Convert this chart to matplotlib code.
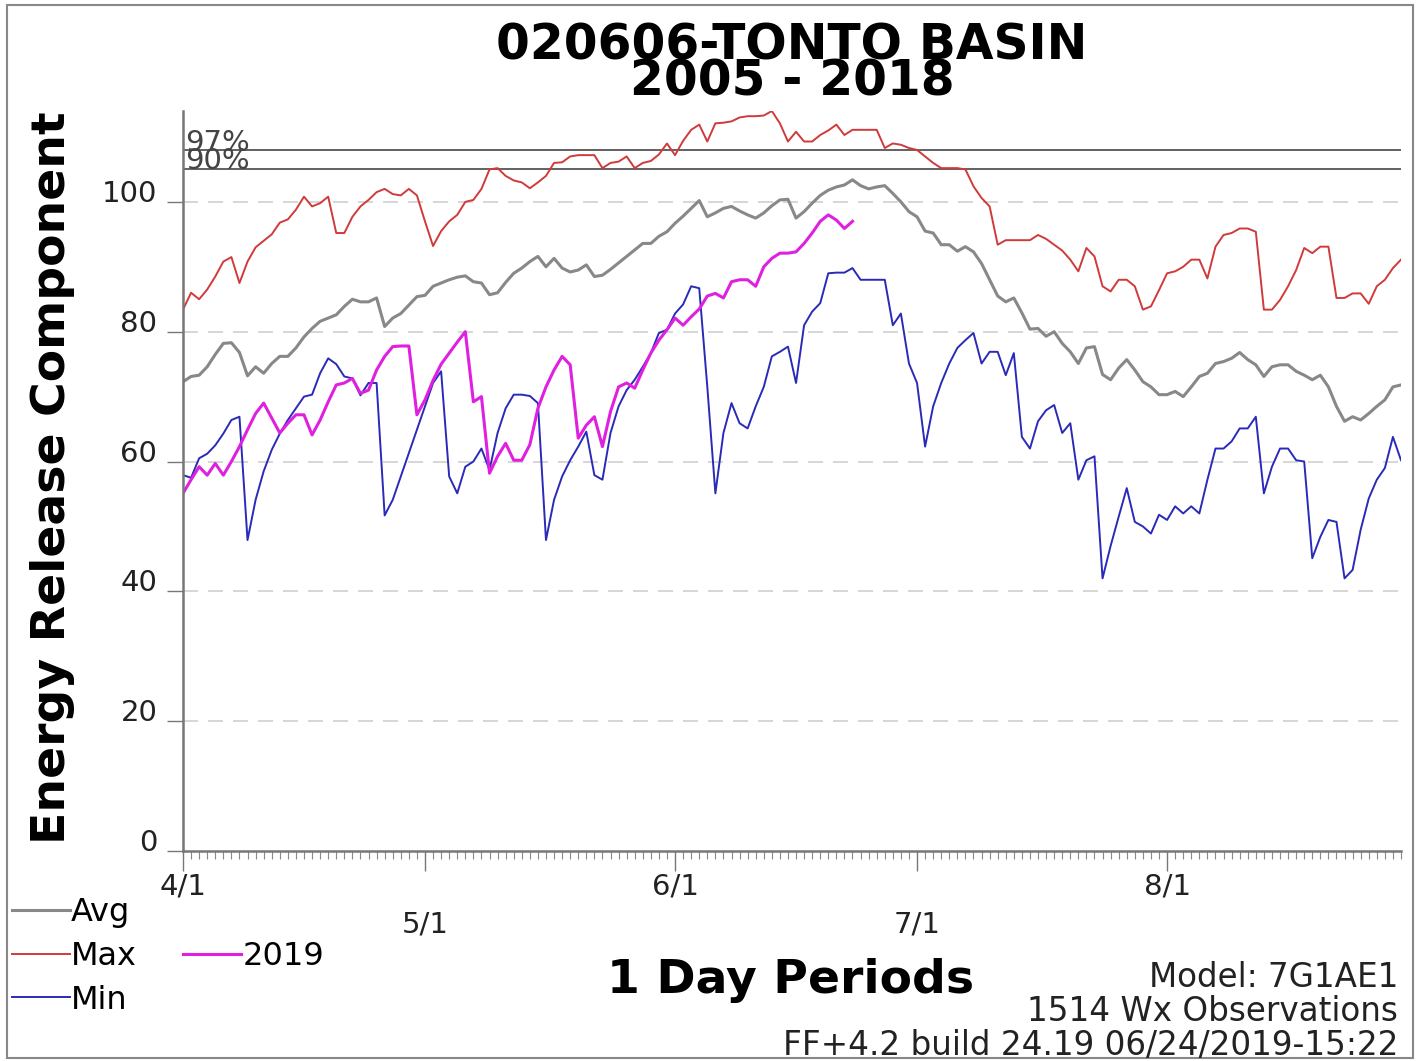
import numpy as np
import matplotlib
matplotlib.use('Agg')
import matplotlib.pyplot as plt
from matplotlib.lines import Line2D
from matplotlib.patches import Rectangle

# ERC values, one per day starting 4/1
erc_max = [83.4, 86.0, 85.0, 86.5, 88.5, 90.8, 91.5, 87.5, 90.8, 93.0,
           94.0, 95.0, 96.8, 97.3, 98.8, 100.8, 99.3, 99.8, 100.8, 95.2,
           95.2, 97.7, 99.3, 100.3, 101.5, 102.0, 101.2, 101.0, 102.0, 101.0,
           97.0, 93.2, 95.5, 97.0, 98.0, 100.0, 100.3, 102.0, 105.0, 105.2,
           104.0, 103.3, 103.0, 102.1, 103.0, 104.0, 106.0, 106.1, 107.0, 107.2,
           107.2, 107.2, 105.2, 106.0, 106.2, 107.0, 105.2, 106.0, 106.3, 107.3,
           109.0, 107.2, 109.4, 111.1, 111.9, 109.3, 112.1, 112.2, 112.4, 113.0,
           113.2, 113.2, 113.3, 114.0, 112.1, 109.3, 110.8, 109.3, 109.3, 110.3,
           111.0, 111.9, 110.3, 111.1, 111.1, 111.1, 111.1, 108.3, 109.0, 108.8,
           108.3, 108.0, 107.0, 106.0, 105.2, 105.2, 105.2, 105.0, 102.4, 100.6,
           99.3, 93.4, 94.1, 94.1, 94.1, 94.1, 94.9, 94.3, 93.4, 92.5,
           91.1, 89.3, 92.9, 91.6, 87.0, 86.2, 88.0, 88.0, 87.0, 83.4,
           83.9, 86.4, 89.0, 89.3, 90.0, 91.1, 91.1, 88.2, 93.1, 94.9,
           95.2, 95.9, 95.9, 95.4, 83.4, 83.4, 84.9, 87.0, 89.5, 92.9,
           92.1, 93.1, 93.1, 85.2, 85.2, 85.9, 85.9, 84.3, 87.0, 88.0,
           89.8, 91.1]

erc_avg = [72.3, 73.1, 73.3, 74.6, 76.5, 78.2, 78.3, 76.8, 73.2, 74.6,
           73.6, 75.1, 76.2, 76.2, 77.5, 79.2, 80.5, 81.6, 82.1, 82.6,
           83.9, 85.0, 84.6, 84.6, 85.2, 80.8, 82.1, 82.8, 84.1, 85.4,
           85.6, 87.0, 87.5, 88.0, 88.4, 88.6, 87.7, 87.5, 85.7, 86.0,
           87.6, 89.0, 89.8, 90.8, 91.6, 90.0, 91.3, 89.8, 89.2, 89.5,
           90.3, 88.5, 88.7, 89.6, 90.6, 91.6, 92.6, 93.6, 93.6, 94.7,
           95.4, 96.7, 97.8, 99.0, 100.2, 97.7, 98.3, 99.0, 99.3, 98.6,
           98.0, 97.5, 98.3, 99.4, 100.3, 100.4, 97.5, 98.5, 99.8, 101.0,
           101.8, 102.3, 102.6, 103.4, 102.5, 102.0, 102.3, 102.5, 101.3, 100.0,
           98.5, 97.7, 95.5, 95.2, 93.4, 93.4, 92.4, 93.1, 92.3, 90.5,
           88.0, 85.5, 84.6, 85.2, 82.9, 80.4, 80.5, 79.3, 80.0, 78.2,
           76.9, 75.1, 77.5, 77.7, 73.4, 72.6, 74.4, 75.7, 74.1, 72.3,
           71.5, 70.3, 70.3, 70.8, 70.0, 71.5, 73.1, 73.6, 75.1, 75.4,
           75.9, 76.8, 75.7, 74.9, 73.1, 74.6, 74.9, 74.9, 73.9, 73.3,
           72.6, 73.3, 71.5, 68.5, 66.2, 66.9, 66.4, 67.4, 68.5, 69.5,
           71.5, 71.8]

erc_min = [57.9, 57.5, 60.5, 61.2, 62.5, 64.3, 66.4, 66.9, 47.9, 54.1,
           58.5, 61.8, 64.3, 66.4, 68.2, 70.0, 70.3, 73.6, 75.9, 75.0,
           73.1, 72.8, 70.2, 72.1, 72.1, 51.7, 54.1, 57.7, 61.3, 64.9,
           68.5, 72.1, 73.9, 57.7, 55.1, 59.2, 60.0, 62.0, 58.7, 64.4,
           68.2, 70.3, 70.3, 70.1, 69.0, 47.9, 54.1, 57.7, 60.2, 62.3,
           64.6, 57.9, 57.2, 64.4, 68.5, 71.0, 72.6, 74.6, 76.7, 79.8,
           80.3, 82.8, 84.2, 87.0, 86.7, 71.5, 55.1, 64.4, 69.0, 65.9,
           65.1, 68.5, 71.5, 76.2, 76.9, 77.7, 72.1, 81.0, 83.1, 84.4,
           89.0, 89.1, 89.1, 89.8, 88.0, 88.0, 88.0, 88.0, 81.0, 82.8,
           75.1, 72.1, 62.3, 68.5, 72.1, 75.1, 77.5, 78.7, 79.8, 75.1,
           76.9, 76.9, 73.3, 76.7, 63.8, 62.0, 66.2, 67.9, 68.7, 64.4,
           65.9, 57.2, 60.2, 60.8, 42.0, 47.0, 51.5, 55.9, 50.7, 50.0,
           48.9, 51.8, 51.0, 53.1, 52.0, 53.1, 52.0, 57.2, 62.0, 62.0,
           63.1, 65.1, 65.1, 66.9, 55.1, 59.2, 62.0, 62.0, 60.2, 60.0,
           45.1, 48.4, 51.0, 50.7, 42.0, 43.3, 49.5, 54.3, 57.2, 59.0,
           63.8, 60.2]

# current season, up to 6/23
erc_2019 = [55.1, 57.2, 59.2, 57.9, 59.7, 57.9, 60.0, 62.3, 64.9, 67.4,
            69.0, 66.7, 64.4, 65.9, 67.2, 67.2, 64.1, 66.4, 69.2, 71.8,
            72.1, 72.8, 70.5, 71.0, 74.1, 76.2, 77.7, 77.8, 77.8, 67.2,
            69.5, 72.5, 75.0, 76.7, 78.4, 80.0, 69.2, 70.0, 58.2, 60.8,
            62.8, 60.2, 60.2, 62.6, 68.2, 71.5, 74.1, 76.2, 74.9, 63.6,
            65.6, 66.9, 62.3, 67.7, 71.5, 72.1, 71.3, 74.1, 76.7, 78.7,
            80.3, 82.1, 81.0, 82.3, 83.5, 85.5, 85.9, 85.2, 87.7, 88.0,
            88.0, 87.0, 90.0, 91.3, 92.1, 92.1, 92.3, 93.6, 95.2, 97.0,
            98.0, 97.2, 95.9, 97.0]

month_days = [0, 30, 61, 91, 122]
month_labels = ['4/1', '\n5/1', '6/1', '\n7/1', '8/1']
y_ticks = [0, 20, 40, 60, 80, 100]
pct_levels = [108.0, 105.1]
pct_labels = ['97%', '90%']

days = np.arange(len(erc_avg))
days_2019 = np.arange(len(erc_2019))

c_avg = '#888888'
c_max = '#d03a3a'
c_min = '#2a2ab8'
c_cur = '#e020e0'

W, H = 1426, 1061
fig = plt.figure(figsize=(W / 100, H / 100), dpi=100)
ax = fig.add_axes([183 / W, 210 / H, 1218 / W, 740 / H])

# gridlines + percentile lines
for v in y_ticks[1:]:
    ax.axhline(v, color='#d0d0d0', lw=1.2, ls=(0, (9, 6)), zorder=0)
for lev in pct_levels:
    ax.axhline(lev, color='#555555', lw=1.3, zorder=1)
# both labels in one block, anchored on the lower (90%) line
ax.text(0.3, pct_levels[1], '\n'.join(pct_labels), fontsize=21, color='#444444',
        ha='left', va='baseline', linespacing=0.55)

l_avg, = ax.plot(days, erc_avg, color=c_avg, lw=2.2, label='Avg')
l_max, = ax.plot(days, erc_max, color=c_max, lw=1.4, label='Max')
l_min, = ax.plot(days, erc_min, color=c_min, lw=1.4, label='Min')
l_cur, = ax.plot(days_2019, erc_2019, color=c_cur, lw=2.2, label='2019')

ax.set_xlim(0, len(erc_avg) - 1)
ax.set_ylim(0, 114)

for s in ['top', 'right']:
    ax.spines[s].set_visible(False)
for s in ['left', 'bottom']:
    ax.spines[s].set_color('#777777')
    ax.spines[s].set_linewidth(1.8)

ax.set_yticks(y_ticks)
ax.set_yticklabels([str(v) for v in y_ticks])
ax.tick_params(axis='y', length=11.5, width=1.0, color='#777777', pad=7,
               labelsize=21, labelcolor='#222222')
plt.setp(ax.get_yticklabels(), va='baseline')

ax.set_xticks(month_days)
ax.set_xticklabels(month_labels)
ax.set_xticks(days, minor=True)
ax.tick_params(axis='x', which='major', length=14.5, width=1.0, color='#777777',
               pad=1, labelsize=21, labelcolor='#222222')
ax.tick_params(axis='x', which='minor', length=6, width=0.8, color='#888888')
plt.setp(ax.get_xticklabels(), linespacing=1.45)

# titles / labels  (baseline anchor = last line)
fig.text(792 / W, 1 - 96 / H, '020606-TONTO BASIN\n2005 - 2018', fontsize=35,
         fontweight='bold', ha='center', va='baseline', multialignment='center',
         linespacing=0.7)
fig.text(53 / W, 1 - 478 / H, 'Energy Release Component', fontsize=34,
         fontweight='bold', rotation=90, ha='center', va='center')
fig.text(791 / W, 1 - 993 / H, '1 Day Periods', fontsize=34, fontweight='bold',
         ha='center', va='baseline')

fig.text(1398 / W, 1 - 987 / H, 'Model: 7G1AE1', fontsize=23.5, color='#222222',
         ha='right', va='baseline')
fig.text(1398 / W, 1 - 1021 / H, '1514 Wx Observations', fontsize=23.5, color='#222222',
         ha='right', va='baseline')
fig.text(1398 / W, 1 - 1055 / H, 'FF+4.2 build 24.19 06/24/2019-15:22', fontsize=23.5,
         color='#222222', ha='right', va='baseline')

# legend: 3 rows left, 2019 next to Max
blank = Line2D([], [], color='none')
fig.legend([l_avg, l_max, l_min, blank, l_cur, blank],
           ['Avg', 'Max', 'Min', '', '2019', ''],
           ncol=2, loc='upper left', bbox_to_anchor=(12 / W, 1 - 897 / H),
           frameon=False, fontsize=23, handlelength=1.8, handletextpad=0.05,
           labelspacing=0.4, columnspacing=1.45, borderpad=0, borderaxespad=0)

# outer frame
fig.patches.append(Rectangle((7 / W, 3 / H), 1406 / W, 1053 / H, transform=fig.transFigure,
                             fill=False, edgecolor='#888888', lw=1.5))

fig.savefig('out.png', dpi=100)
